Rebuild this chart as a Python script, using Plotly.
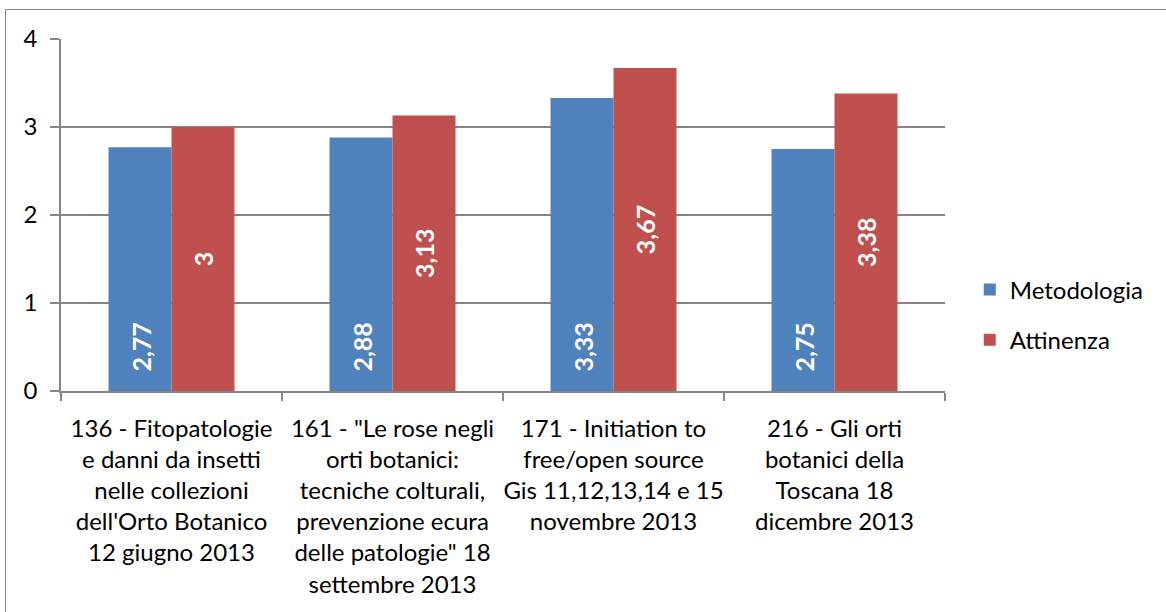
import plotly.graph_objects as go

# Courses and their average ratings
categories = [
    "136 - Fitopatologie e danni da insetti nelle collezioni dell'Orto Botanico 12 giugno 2013",
    "161 - \"Le rose negli orti botanici: tecniche colturali, prevenzione ecura delle patologie\" 18 settembre 2013",
    "171 - Initiation to free/open source Gis 11,12,13,14 e 15 novembre 2013",
    "216 - Gli orti botanici della Toscana 18 dicembre 2013",
]
tick_labels = [
    "136 - Fitopatologie<br>e danni da insetti<br>nelle collezioni<br>dell'Orto Botanico<br>12 giugno 2013",
    "161 - \"Le rose negli<br>orti botanici:<br>tecniche colturali,<br>prevenzione ecura<br>delle patologie\" 18<br>settembre 2013",
    "171 - Initiation to<br>free/open source<br>Gis 11,12,13,14 e 15<br>novembre 2013",
    "216 - Gli orti<br>botanici della<br>Toscana 18<br>dicembre 2013",
]
metodologia = [2.77, 2.88, 3.33, 2.75]
attinenza = [3.00, 3.13, 3.67, 3.38]
y_ticks = [0, 1, 2, 3, 4]


def it_num(v):
    return f"{v:g}".replace(".", ",")


W, H = 1166, 612
ML, MR, MT, MB = 61, 221, 39, 221
plot_w = W - ML - MR
plot_h = H - MT - MB
BARGAP = 0.43
FONT = "Lato, Calibri, sans-serif"
BLUE = "#4F81BD"
RED = "#C0504D"
GRID = "#868686"

bar_px = plot_w / len(categories) * (1 - BARGAP) / 2

fig = go.Figure()
fig.add_trace(go.Bar(
    name="Metodologia", x=categories, y=metodologia,
    marker=dict(color=BLUE, line=dict(width=0)),
    legendgroup="m",
))
fig.add_trace(go.Bar(
    name="Attinenza", x=categories, y=attinenza,
    marker=dict(color=RED, line=dict(width=0)),
    text=[it_num(v) for v in attinenza],
    textposition="inside", insidetextanchor="middle", textangle=-90,
    textfont=dict(family=FONT, size=25, color="white", weight="bold"),
    legendgroup="a",
))

# Metodologia values sit near the base of each blue bar
for c, v in zip(categories, metodologia):
    fig.add_annotation(
        x=c, y=0, xref="x", yref="y", text=it_num(v), showarrow=False,
        textangle=-90, xshift=-bar_px / 2, yshift=17,
        xanchor="center", yanchor="bottom",
        font=dict(family=FONT, size=25, color="white", weight="bold"),
    )

# Outer chart frame
fig.add_shape(
    type="rect", xref="paper", yref="paper",
    x0=(5.5 - ML) / plot_w, x1=(W + 10 - ML) / plot_w,
    y0=(MT + plot_h - (H + 10)) / plot_h, y1=(MT + plot_h - 9.5) / plot_h,
    line=dict(color="#878787", width=1), fillcolor="rgba(0,0,0,0)", layer="below",
)

fig.update_layout(
    width=W, height=H,
    margin=dict(l=ML, r=MR, t=MT, b=MB, pad=0, autoexpand=False),
    paper_bgcolor="white", plot_bgcolor="white",
    barmode="group", bargap=BARGAP, bargroupgap=0,
    font=dict(family=FONT, size=24, color="black"),
    showlegend=True,
    legend=dict(
        x=1.028, y=0.216, xanchor="left", yanchor="middle",
        traceorder="grouped", tracegroupgap=16,
        font=dict(family=FONT, size=24, color="black"),
        bgcolor="rgba(0,0,0,0)",
    ),
)
fig.update_xaxes(
    tickvals=categories, ticktext=tick_labels, tickangle=0, automargin=False,
    showline=True, linecolor=GRID, linewidth=1.5,
    ticks="outside", tickson="boundaries", ticklen=8, tickcolor=GRID, tickwidth=1.5,
    showgrid=False, ticklabelstandoff=15,
    tickfont=dict(family=FONT, size=24, color="black"),
)
fig.update_yaxes(
    range=[0, 4], tickvals=y_ticks, ticktext=[str(t) for t in y_ticks],
    automargin=False,
    showline=True, linecolor=GRID, linewidth=1.5,
    showgrid=True, gridcolor=GRID, gridwidth=1.5,
    ticks="outside", ticklen=9, tickcolor=GRID, tickwidth=1.5,
    ticklabelstandoff=8, zeroline=False,
    tickfont=dict(family=FONT, size=24, color="black"),
)

fig.write_html("out.html")
